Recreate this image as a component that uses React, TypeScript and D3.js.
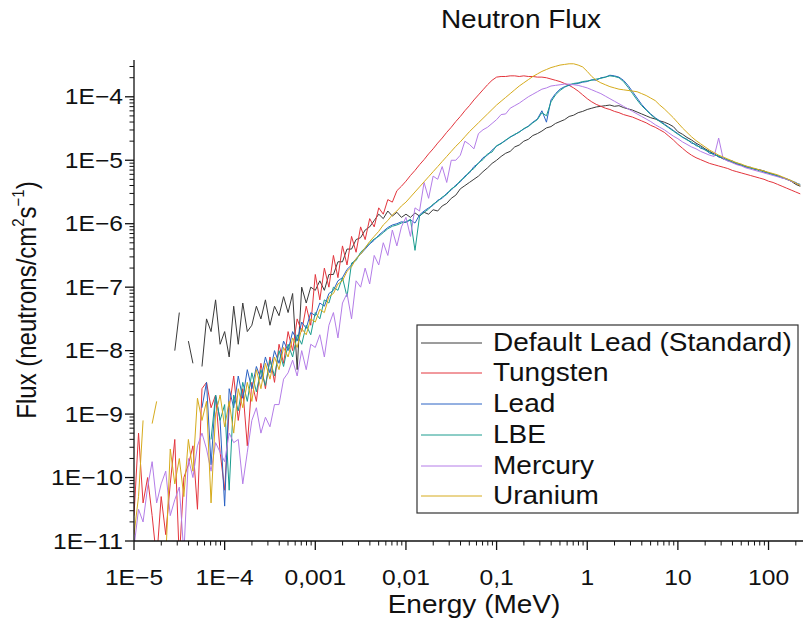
import React from "react";
import * as d3 from "d3";

// Energy bins: 20 equal-lethargy bins per decade (mantissas x decades)
const mantissas = [1, 1.122, 1.259, 1.413, 1.585, 1.778, 1.995, 2.239, 2.512, 2.818, 3.162, 3.548, 3.981, 4.467, 5.012, 5.623, 6.31, 7.079, 7.943, 8.913];
const decades = [1e-5, 1e-4, 1e-3, 1e-2, 1e-1, 1, 10, 100];
const binCount = 148;

// log10 of flux (neutrons/cm^2 s^-1), one value per energy bin; null = empty bin
const defaultLeadLog = [
  null, null, null, null, null, null, null, null, null, -8.0, -7.4, null, -7.85, -8.2, null, -8.25, -7.5, -7.7, -7.2, -7.9,
  -7.7, -8.1, -7.3, -7.9, -7.25, -7.7, -7.6, -7.3, -7.5, -7.2, -7.6, -7.3, -7.45, -7.15, -7.4, -7.1, -8.3, -7.0, -7.25, -7.0,
  -7.05, -6.9, -7.05, -6.8, -6.8, -6.6, -6.6, -6.4, -6.4, -6.25, -6.22, -6.1, -6.05, -5.95, -5.85, -5.92, -5.8, -5.88, -5.82, -5.9,
  -5.85, -5.9, -5.83, -5.88, -5.82, -5.85, -5.78, -5.8, -5.72, -5.68, -5.6, -5.55, -5.45, -5.4, -5.35, -5.3, -5.25, -5.18, -5.12, -5.05,
  -5.0, -4.94, -4.89, -4.86, -4.79, -4.76, -4.7, -4.67, -4.61, -4.58, -4.54, -4.49, -4.47, -4.42, -4.39, -4.36, -4.31, -4.29, -4.25, -4.23,
  -4.2, -4.18, -4.16, -4.15, -4.14, -4.13, -4.15, -4.14, -4.17, -4.19, -4.21, -4.24, -4.27, -4.3, -4.33, -4.35, -4.38, -4.4, -4.43, -4.47,
  -4.55, -4.59, -4.64, -4.68, -4.73, -4.77, -4.82, -4.86, -4.9, -4.94, -4.98, -5.0, -5.03, -5.06, -5.08, -5.1, -5.12, -5.14, -5.15, -5.17,
  -5.2, -5.22, -5.25, -5.27, -5.3, -5.33, -5.38, -5.41,
];
const tungstenLog = [
  -10.6, -9.3, -10.4, -10.0, -10.6, -11.3, -10.3, -10.9, -10.1, -9.4, -11.3, -10.0, -9.8, -9.5, -10.5, -8.6, -8.5, -8.9, -8.7, -9.6,
  -10.2, -8.9, -8.4, -9.1, -8.6, -9.5, -8.5, -8.8, -8.2, -8.6, -8.1, -8.5, -7.9, -8.2, -7.7, -8.0, -7.5, -7.7, -7.3, -7.6,
  -6.8, -7.2, -6.7, -7.0, -6.5, -6.85, -6.35, -6.65, -6.2, -6.45, -6.05, -6.25, -5.92, -6.05, -5.75, -5.85, -5.62, -5.66, -5.48, -5.41,
  -5.33, -5.24, -5.16, -5.07, -4.99, -4.9, -4.82, -4.73, -4.65, -4.56, -4.48, -4.39, -4.31, -4.22, -4.14, -4.05, -3.97, -3.89, -3.81, -3.74,
  -3.69, -3.68, -3.68, -3.67, -3.67, -3.68, -3.67, -3.68, -3.68, -3.69, -3.69, -3.7, -3.72, -3.74, -3.76, -3.79, -3.82, -3.86, -3.91, -3.97,
  -4.03, -4.08, -4.12, -4.15, -4.18, -4.2, -4.23, -4.25, -4.28, -4.3, -4.32, -4.35, -4.38, -4.41, -4.45, -4.48, -4.52, -4.56, -4.62, -4.68,
  -4.75, -4.81, -4.87, -4.92, -4.96, -4.99, -5.02, -5.05, -5.07, -5.09, -5.11, -5.13, -5.16, -5.18, -5.2, -5.22, -5.24, -5.26, -5.28, -5.3,
  -5.33, -5.35, -5.38, -5.41, -5.44, -5.47, -5.5, -5.53,
];
const leadLog = [
  null, null, null, null, null, null, null, null, null, null, null, null, null, null, null, -8.9, -8.5, -9.8, -8.7, -9.1,
  -10.45, -8.6, -8.9, -8.4, -8.75, -8.3, -8.6, -8.25, -8.45, -8.1, -8.35, -8.0, -8.2, -7.85, -8.0, -7.7, -7.85, -7.55, -7.65, -7.4,
  -7.45, -7.25, -7.3, -7.1, -7.05, -6.9, -6.85, -6.72, -6.65, -6.55, -6.48, -6.4, -6.32, -6.26, -6.18, -6.12, -6.06, -6.02, -6.0, -5.97,
  -5.98, -5.94, -5.99, -5.86, -5.8, -5.75, -5.71, -5.63, -5.6, -5.52, -5.47, -5.39, -5.34, -5.25, -5.2, -5.1, -5.05, -4.96, -4.92, -4.84,
  -4.78, -4.73, -4.69, -4.63, -4.6, -4.55, -4.51, -4.46, -4.4, -4.35, -4.22, -4.4, -4.05, -3.95, -3.88, -3.84, -3.82, -3.8, -3.79, -3.77,
  -3.76, -3.73, -3.74, -3.7, -3.69, -3.66, -3.67, -3.69, -3.74, -3.82, -3.92, -4.02, -4.12, -4.2, -4.27, -4.33, -4.38, -4.43, -4.48, -4.53,
  -4.58, -4.64, -4.67, -4.73, -4.75, -4.81, -4.83, -4.89, -4.9, -4.95, -4.96, -5.01, -5.01, -5.06, -5.07, -5.11, -5.11, -5.15, -5.15, -5.19,
  -5.2, -5.23, -5.24, -5.28, -5.29, -5.33, -5.35, -5.4,
];
const lbeLog = [
  null, null, null, null, null, null, null, null, null, null, null, null, null, null, null, null, null, -9.4, -8.7, -9.1,
  -8.85, -10.2, -8.7, -8.95, -8.5, -8.8, -8.35, -8.65, -8.3, -8.55, -8.15, -8.4, -8.0, -8.25, -7.9, -8.1, -7.75, -7.9, -7.6, -7.75,
  -7.4, -7.5, -7.2, -7.25, -7.0, -7.05, -6.85, -7.15, -6.62, -6.58, -6.45, -6.38, -6.3, -6.24, -6.2, -6.14, -6.08, -6.04, -6.02, -5.99,
  -5.97, -5.93, -6.42, -5.88, -5.82, -5.77, -5.69, -5.65, -5.58, -5.54, -5.45, -5.41, -5.32, -5.27, -5.18, -5.13, -5.04, -4.99, -4.9, -4.87,
  -4.77, -4.74, -4.68, -4.64, -4.59, -4.56, -4.5, -4.47, -4.41, -4.36, -4.25, -4.3, -4.08, -3.97, -3.9, -3.85, -3.81, -3.79, -3.78, -3.76,
  -3.75, -3.74, -3.72, -3.71, -3.69, -3.67, -3.68, -3.7, -3.76, -3.85, -3.95, -4.05, -4.14, -4.21, -4.28, -4.34, -4.39, -4.44, -4.49, -4.54,
  -4.59, -4.63, -4.68, -4.71, -4.77, -4.79, -4.84, -4.87, -4.92, -4.93, -4.97, -4.99, -5.03, -5.04, -5.08, -5.09, -5.13, -5.13, -5.17, -5.17,
  -5.21, -5.22, -5.25, -5.27, -5.3, -5.32, -5.36, -5.38,
];
const mercuryLog = [
  -11.1, -10.5, -10.7, -10.15, -9.75, -10.4, -10.1, -9.9, -10.6, -10.35, -10.15, -11.2, -9.7, -10.0, -9.5, -9.3, -9.55, -9.9, -9.45, -9.6,
  -9.75, -9.3, -9.45, -9.4, -10.1, -9.6, -9.1, -8.9, -9.3, -9.05, -9.2, -8.85, -8.85, -8.45, -8.35, -8.15, -8.4, -8.0, -8.3, -7.9,
  -7.95, -7.75, -8.1, -7.6, -7.4, -7.8, -7.25, -7.1, -7.5, -6.9, -7.0, -6.7, -6.95, -6.5, -6.65, -6.3, -6.5, -6.1, -6.35, -6.05,
  -5.9, -6.2, -5.75, -5.8, -5.35, -5.6, -5.25, -5.3, -5.1, -5.35, -5.0, -5.0, -4.92, -4.7, -4.75, -4.82, -4.58, -4.52, -4.48, -4.42,
  -4.36, -4.28, -4.27, -4.18, -4.14, -4.1, -4.05, -4.0, -3.96, -3.92, -3.88, -3.86, -3.83, -3.82, -3.81, -3.8, -3.8, -3.81, -3.82, -3.84,
  -3.86, -3.89, -3.92, -3.95, -3.99, -4.03, -4.07, -4.11, -4.15, -4.19, -4.23, -4.27, -4.31, -4.35, -4.39, -4.44, -4.48, -4.52, -4.57, -4.62,
  -4.66, -4.71, -4.75, -4.79, -4.82, -4.86, -4.89, -4.92, -4.94, -4.65, -4.98, -5.01, -5.04, -5.07, -5.09, -5.12, -5.14, -5.16, -5.18, -5.2,
  -5.22, -5.24, -5.26, -5.28, -5.3, -5.33, -5.36, -5.39,
];
const uraniumLog = [
  -10.9, -10.3, -9.1, null, -9.15, -8.8, null, -11.3, -9.55, -10.1, -9.7, -10.3, -9.4, -9.9, -8.75, -9.1, -8.8, -10.4, -9.0, -8.7,
  -9.2, -8.8, -9.3, -8.6, -8.9, -8.5, -8.8, -8.3, -8.6, -8.2, -8.45, -8.1, -8.3, -7.95, -8.1, -7.8, -7.95, -7.65, -7.75, -7.5,
  -7.55, -7.35, -7.4, -7.15, -7.1, -6.95, -6.9, -6.75, -6.68, -6.55, -6.48, -6.38, -6.28, -6.2, -6.12, -6.02, -5.95, -5.86, -5.8, -5.72,
  -5.66, -5.58, -5.5, -5.42, -5.34, -5.26, -5.18, -5.1, -5.02, -4.94, -4.86, -4.78, -4.71, -4.63, -4.55, -4.48, -4.41, -4.34, -4.27, -4.2,
  -4.13, -4.07, -4.01, -3.95, -3.89, -3.83, -3.78, -3.73, -3.68, -3.64, -3.6, -3.57, -3.54, -3.52, -3.5, -3.49, -3.48, -3.48, -3.5, -3.53,
  -3.6, -3.68, -3.74, -3.78, -3.81, -3.84, -3.86, -3.88, -3.89, -3.9, -3.91, -3.92, -3.95, -3.98, -4.02, -4.06, -4.13, -4.19, -4.26, -4.33,
  -4.41, -4.49, -4.56, -4.63, -4.69, -4.74, -4.79, -4.84, -4.88, -4.92, -4.95, -4.98, -5.01, -5.04, -5.06, -5.09, -5.11, -5.13, -5.15, -5.17,
  -5.19, -5.21, -5.23, -5.26, -5.29, -5.32, -5.36, -5.4,
];

const seriesNames = ["Default Lead (Standard)", "Tungsten", "Lead", "LBE", "Mercury", "Uranium"];
const seriesColors = ["#3a3a3a", "#e3343c", "#2a62c4", "#1a9c8e", "#b47de8", "#d6ab1c"];
const seriesLogs = [defaultLeadLog, tungstenLog, leadLog, lbeLog, mercuryLog, uraniumLog];

const xTickValues = [1e-5, 1e-4, 1e-3, 1e-2, 1e-1, 1, 10, 100];
const xTickLabels = ["1E\u22125", "1E\u22124", "0,001", "0,01", "0,1", "1", "10", "100"];
const yTickValues = [1e-11, 1e-10, 1e-9, 1e-8, 1e-7, 1e-6, 1e-5, 1e-4];
const yTickLabels = ["1E\u221211", "1E\u221210", "1E\u22129", "1E\u22128", "1E\u22127", "1E\u22126", "1E\u22125", "1E\u22124"];

const W = 803;
const H = 621;
const X0 = 134;
const X1 = 802;
const Y0 = 541;
const Y1 = 60;
const SX = 1.12; // horizontal stretch of the source picture's text
const FONT = "'Liberation Sans', Arial, sans-serif";

const energies = decades.flatMap((d) => mantissas.map((m) => m * d)).slice(0, binCount);

const x = d3.scaleLog().domain([1e-5, 234]).range([X0, X1]);
const y = d3.scaleLog().domain([1e-11, 3.8e-4]).range([Y0, Y1]);

function minorTicks(lo: number, hi: number, from: number, to: number) {
  const out: number[] = [];
  for (let k = from; k <= to; k++) {
    for (let m = 2; m <= 9; m++) {
      const v = m * Math.pow(10, k);
      if (v > lo && v <= hi) out.push(v);
    }
  }
  return out;
}

function T({ x0, y0, size, anchor = "middle", children, rotate = 0 }: any) {
  const tr = `translate(${x0},${y0}) scale(${SX},1)` + (rotate ? ` rotate(${rotate})` : "");
  return (
    <text transform={tr} fontSize={size} textAnchor={anchor} dominantBaseline="central" fontFamily={FONT} fill="#111">
      {children}
    </text>
  );
}

export default function App() {
  const line = d3
    .line<{ e: number; f: number | null }>()
    .defined((d) => d.f !== null)
    .x((d) => x(d.e))
    .y((d) => y(d.f as number));

  const paths = seriesLogs.map((arr) =>
    line(energies.map((e, i) => ({ e, f: arr[i] === null || arr[i] === undefined ? null : Math.pow(10, arr[i] as number) })))
  );

  const xMinor = minorTicks(1e-5, 234, -5, 2);
  const yMinor = minorTicks(1e-11, 3.8e-4, -11, -4);
  const legendRows = [343, 373, 404, 435, 466, 496];

  return (
    <svg width={W} height={H} style={{ position: "absolute", left: 0, top: 0, background: "#fff" }}>
      <rect x={0} y={0} width={W} height={H} fill="#fff" />
      <defs>
        <clipPath id="plotClip">
          <rect x={X0} y={Y1} width={W - X0} height={Y0 - Y1} />
        </clipPath>
      </defs>

      <g clipPath="url(#plotClip)" fill="none" strokeWidth={1} strokeLinejoin="round">
        {paths.map((p, i) => (
          <path key={seriesNames[i]} d={p || ""} stroke={seriesColors[i]} />
        ))}
      </g>

      {/* axes */}
      <g stroke="#111" strokeWidth={1.3}>
        <line x1={X0} y1={Y1} x2={X0} y2={Y0} />
        <line x1={X0} y1={Y0} x2={W} y2={Y0} />
        {yTickValues.map((v) => (
          <line key={"ym" + v} x1={X0 - 9} x2={X0} y1={y(v)} y2={y(v)} />
        ))}
        {yMinor.map((v) => (
          <line key={"yn" + v} x1={X0 - 4.5} x2={X0} y1={y(v)} y2={y(v)} strokeWidth={1} />
        ))}
        {xTickValues.map((v) => (
          <line key={"xm" + v} x1={x(v)} x2={x(v)} y1={Y0} y2={Y0 + 9} />
        ))}
        {xMinor.map((v) => (
          <line key={"xn" + v} x1={x(v)} x2={x(v)} y1={Y0} y2={Y0 + 4.5} strokeWidth={1} />
        ))}
      </g>

      {yTickValues.map((v, i) => (
        <T key={"yl" + v} x0={123} y0={y(v)} size={22} anchor="end">
          {yTickLabels[i]}
        </T>
      ))}
      {xTickValues.map((v, i) => (
        <T key={"xl" + v} x0={x(v)} y0={577} size={22}>
          {xTickLabels[i]}
        </T>
      ))}

      <T x0={521} y0={20} size={25}>Neutron Flux</T>
      <T x0={474} y0={605} size={25}>Energy (MeV)</T>
      <T x0={27} y0={300} size={24} rotate={-90}>
        Flux (neutrons/cm
        <tspan fontSize={15} dy={-8}>2</tspan>
        <tspan dy={8}>s</tspan>
        <tspan fontSize={15} dy={-8}>{"\u22121"}</tspan>
        <tspan dy={8}>)</tspan>
      </T>

      {/* legend */}
      <rect x={417} y={325} width={381} height={188} fill="#fff" stroke="#333" strokeWidth={1.2} />
      {seriesNames.map((n, i) => (
        <g key={"lg" + n}>
          <line x1={421} x2={482} y1={legendRows[i]} y2={legendRows[i]} stroke={seriesColors[i]} strokeWidth={1} />
          <T x0={493} y0={legendRows[i]} size={25} anchor="start">
            {n}
          </T>
        </g>
      ))}
    </svg>
  );
}
